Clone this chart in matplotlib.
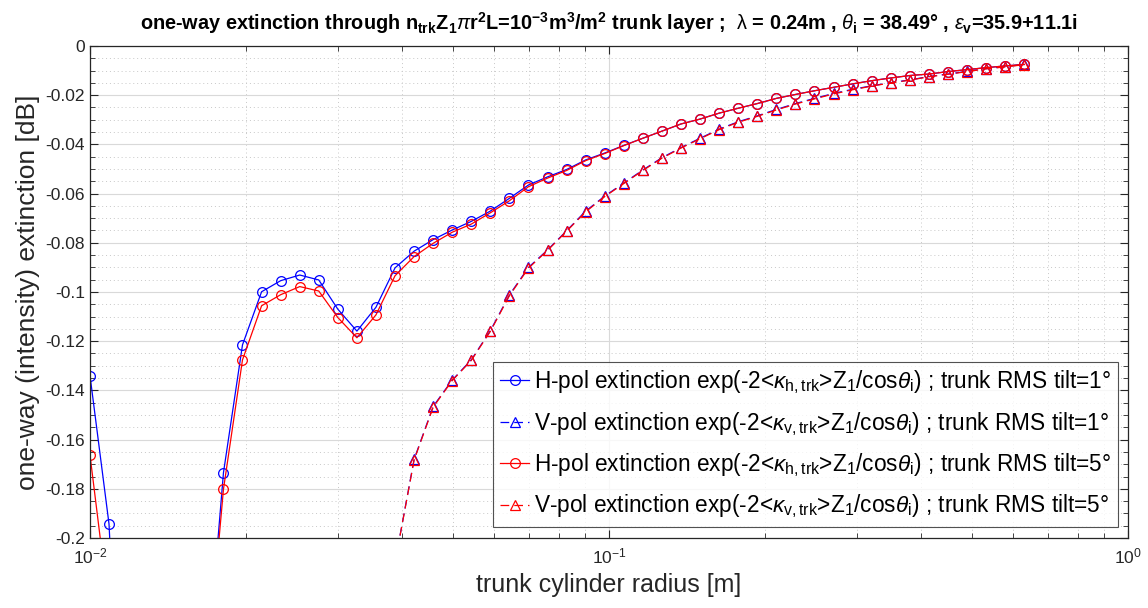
import numpy as np
import matplotlib
matplotlib.use("Agg")
import matplotlib.pyplot as plt
from matplotlib.ticker import FixedLocator, FuncFormatter, LogLocator, NullFormatter

plt.rcParams['font.family'] = ['Liberation Sans', 'DejaVu Sans']
plt.rcParams['mathtext.fontset'] = 'custom'
plt.rcParams['mathtext.rm'] = 'Liberation Sans'
plt.rcParams['mathtext.it'] = 'Liberation Sans:italic'
plt.rcParams['mathtext.bf'] = 'Liberation Sans:bold'
plt.rcParams['axes.unicode_minus'] = False

# ---------------- data ----------------
radius = [0.01000, 0.01088, 0.01184, 0.01289, 0.01403, 0.01526, 0.01661, 0.01808,
          0.01967, 0.02141, 0.02330, 0.02536, 0.02759, 0.03003, 0.03268, 0.03556,
          0.03870, 0.04212, 0.04584, 0.04988, 0.05428, 0.05908, 0.06429, 0.06996,
          0.07614, 0.08286, 0.09017, 0.09814, 0.1068, 0.1162, 0.1265, 0.1376,
          0.1498, 0.1630, 0.1774, 0.1931, 0.2101, 0.2287, 0.2488, 0.2708,
          0.2947, 0.3207, 0.3490, 0.3798, 0.4134, 0.4499, 0.4896, 0.5328,
          0.5798, 0.6310]

h_tilt1 = [-0.1340, -0.1943, -0.35, -0.55, -0.60, -0.45, -0.267, -0.1734,
           -0.1215, -0.0999, -0.0954, -0.0931, -0.0951, -0.1070, -0.1159, -0.1062,
           -0.0902, -0.0834, -0.0787, -0.0748, -0.0713, -0.0671, -0.0619, -0.0565,
           -0.0532, -0.0502, -0.0463, -0.0435, -0.0404, -0.0375, -0.0346, -0.0317,
           -0.0297, -0.0273, -0.0253, -0.0234, -0.0213, -0.0197, -0.0182, -0.0168,
           -0.0154, -0.0141, -0.0130, -0.0120, -0.0114, -0.0104, -0.0096, -0.0088,
           -0.0081, -0.0075]

h_tilt5 = [-0.1663, -0.229, -0.45, -0.60, -0.62, -0.47, -0.267, -0.1801,
           -0.1276, -0.1056, -0.1011, -0.0978, -0.0996, -0.1104, -0.1186, -0.1093,
           -0.0934, -0.0856, -0.0802, -0.0757, -0.0724, -0.0678, -0.0629, -0.0572,
           -0.0537, -0.0506, -0.0466, -0.0437, -0.0405, -0.0375, -0.0346, -0.0317,
           -0.0297, -0.0273, -0.0253, -0.0234, -0.0213, -0.0197, -0.0182, -0.0168,
           -0.0154, -0.0141, -0.0130, -0.0120, -0.0114, -0.0104, -0.0096, -0.0088,
           -0.0081, -0.0075]

nan = float('nan')
v_tilt1 = [nan] * 16 + [
           -0.2100, -0.1680, -0.1465, -0.1358, -0.1276, -0.1157, -0.1012, -0.0900,
           -0.0829, -0.0751, -0.0671, -0.0610, -0.0557, -0.0504, -0.0454, -0.0413,
           -0.0375, -0.0338, -0.0308, -0.0284, -0.0258, -0.0234, -0.0213, -0.0193,
           -0.0176, -0.0162, -0.0149, -0.0138, -0.0124, -0.0114, -0.0103, -0.0092,
           -0.0084, -0.0075]

v_tilt5 = [nan] * 16 + [
           -0.2100, -0.1683, -0.1468, -0.1360, -0.1278, -0.1160, -0.1015, -0.0903,
           -0.0831, -0.0753, -0.0674, -0.0612, -0.0559, -0.0506, -0.0456, -0.0415,
           -0.0377, -0.0340, -0.0310, -0.0286, -0.0260, -0.0236, -0.0215, -0.0195,
           -0.0178, -0.0163, -0.0150, -0.0139, -0.0125, -0.0115, -0.0104, -0.0093,
           -0.0085, -0.0076]

labels = [
    r"H-pol extinction exp(-2<$\kappa_{\mathrm{h,trk}}$>Z$_{\mathrm{1}}$/cos$\theta_{\mathrm{i}}$) ; trunk RMS tilt=1°",
    r"V-pol extinction exp(-2<$\kappa_{\mathrm{v,trk}}$>Z$_{\mathrm{1}}$/cos$\theta_{\mathrm{i}}$) ; trunk RMS tilt=1°",
    r"H-pol extinction exp(-2<$\kappa_{\mathrm{h,trk}}$>Z$_{\mathrm{1}}$/cos$\theta_{\mathrm{i}}$) ; trunk RMS tilt=5°",
    r"V-pol extinction exp(-2<$\kappa_{\mathrm{v,trk}}$>Z$_{\mathrm{1}}$/cos$\theta_{\mathrm{i}}$) ; trunk RMS tilt=5°",
]

title = (r"one-way extinction through n$_{\mathbf{trk}}$Z$_{\mathbf{1}}$$\pi$r$^{\mathbf{2}}$"
         r"L=10$^{\mathbf{-3}}$m$^{\mathbf{3}}$/m$^{\mathbf{2}}$ trunk layer ;  $\mathrm{\lambda}$ = 0.24m , "
         r"$\theta_{\mathbf{i}}$ = 38.49° , $\epsilon_{\mathbf{v}}$=35.9+11.1i")

# ---------------- plot ----------------
fig = plt.figure(figsize=(11.48, 6.08), dpi=100)
ax = fig.add_axes([90/1148, 1-538/608, 1038/1148, 492/608])

ms = 7
lw = 0.9
dash = (0, (7, 4))
ax.plot(radius, h_tilt1, '-', marker='o', color='blue', lw=lw, ms=ms, mfc='none', mew=0.9, label=labels[0])
ax.plot(radius, v_tilt1, ls=dash, marker='^', color='blue', lw=lw, ms=ms, mfc='none', mew=0.9, label=labels[1])
ax.plot(radius, h_tilt5, '-', marker='o', color='red', lw=lw, ms=ms, mfc='none', mew=0.9, label=labels[2])
ax.plot(radius, v_tilt5, ls=dash, marker='^', color='red', lw=lw, ms=ms, mfc='none', mew=0.9, label=labels[3])

ax.set_xscale('log')
ax.set_xlim(1e-2, 1e0)
ax.set_ylim(-0.2, 0)

axc = '#262626'
ax.yaxis.set_major_locator(FixedLocator(np.arange(-0.2, 0.001, 0.02)))
ax.yaxis.set_minor_locator(FixedLocator(np.arange(-0.2, 0.001, 0.005)))
ax.yaxis.set_major_formatter(FuncFormatter(lambda v, p: '0' if abs(v) < 1e-9 else ('%g' % round(v, 3))))
ax.xaxis.set_major_locator(LogLocator(base=10, numticks=10))
ax.xaxis.set_minor_locator(LogLocator(base=10, subs=np.arange(2, 10), numticks=20))
ax.xaxis.set_minor_formatter(NullFormatter())

ax.grid(True, which='major', color='#d9d9d9', lw=0.8, ls='-')
ax.grid(True, which='minor', color='#c8c8c8', lw=0.7, ls=(0, (1, 3)))
ax.set_axisbelow(True)

ax.tick_params(which='both', direction='in', top=True, right=True, colors=axc, labelsize=12.5)
ax.tick_params(which='major', length=6, width=0.8)
ax.tick_params(which='minor', length=3.5, width=0.6)
ax.tick_params(axis='x', pad=6)
for s in ax.spines.values():
    s.set_color(axc)
    s.set_linewidth(0.9)

ax.set_xlabel('trunk cylinder radius [m]', fontsize=18, color=axc, labelpad=5)
ax.set_ylabel('one-way (intensity) extinction [dB]', fontsize=19, color=axc, labelpad=4)
ax.set_title(title, fontsize=14.3, fontweight='bold', color='black', pad=12)

leg = ax.legend(loc='lower right', bbox_to_anchor=(0.9905, 0.022), borderaxespad=0,
                fontsize=16.3, frameon=True, fancybox=False, edgecolor=axc,
                handlelength=1.3, handletextpad=0.2, labelspacing=0.6,
                borderpad=0.3)
leg.get_frame().set_linewidth(0.8)

fig.savefig('out.png', dpi=100)
